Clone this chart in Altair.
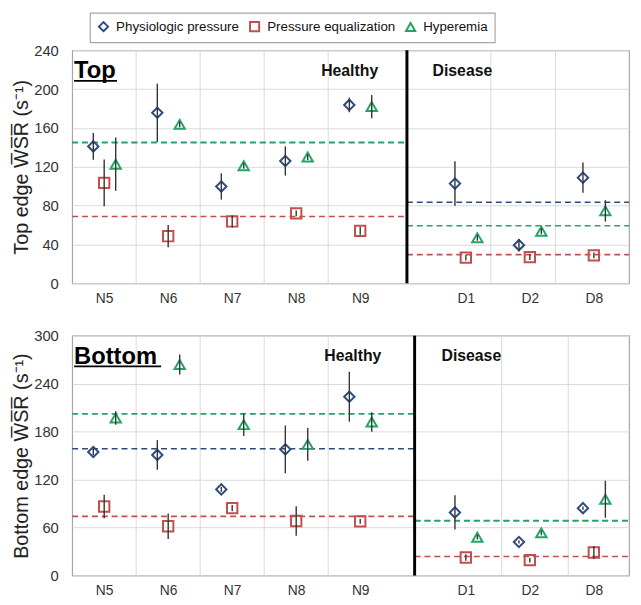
import altair as alt
import pandas as pd

# ---------------- data ----------------
categories = ["N5", "N6", "N7", "N8", "N9", "D1", "D2", "D8"]
series_names = ["Physiologic pressure", "Pressure equalization", "Hyperemia"]

# Top edge WSR (s^-1): mean and +/- error
top_phys = [141, 175.6, 99.7, 126, 183.7, 102.7, 39.3, 108.8]
top_phys_err = [13.8, 30, 13.5, 15, 7.5, 22.9, 6.3, 15.5]
top_press = [103.4, 48.5, 63.7, 72, 54, 26.4, 27, 28.8]
top_press_err = [24, 11.5, 6.2, 3, 4, 3, 3, 3]
top_hyp = [122.7, 163.7, 121, 130, 182, 46.8, 53.6, 74.6]
top_hyp_err = [27.5, 3, 3, 3, 12, 3, 3, 11]
top_mean_healthy = [145, 68.8, 145]
top_mean_disease = [83.4, 29.5, 59.3]

# Bottom edge WSR (s^-1)
bot_phys = [154.5, 150.8, 107.7, 157.8, 223.6, 78.9, 42, 84.3]
bot_phys_err = [4, 18.5, 3, 29.8, 31.2, 21.4, 2, 2]
bot_press = [86.3, 61.6, 84.3, 68.2, 67.8, 22.6, 19.3, 28.8]
bot_press_err = [14.7, 16, 4, 18.5, 3, 4, 3, 8.2]
bot_hyp = [196.9, 263.9, 188.7, 164, 192, 48, 53.4, 95.4]
bot_hyp_err = [8.5, 12.5, 14.2, 20.5, 12.3, 3, 3, 23.2]
bot_mean_healthy = [158.6, 74, 202.2]
bot_mean_disease = [68.6, 23.8, 68.9]

# ---------------- layout constants ----------------
cat_pos = [1, 2, 3, 4, 5, 6.65, 7.65, 8.65]
offsets = [-0.17, 0.0, 0.18]
X_MIN, X_MAX = 0.5, 9.2
colors = ["#2F4B7C", "#C0504D", "#22A565"]
shapes = ["diamond", "square", "triangle-up"]
FONT = "Liberation Sans"

label_expr = ""
for p, c in zip(cat_pos, categories):
    label_expr += f"datum.value == {p} ? '{c}' : "
label_expr += "''"

color_expr = ""
for n, c in zip(series_names, colors):
    color_expr += f"datum.series == '{n}' ? '{c}' : "
color_expr += "'#000000'"

color_scale = alt.Scale(domain=series_names, range=colors)
shape_scale = alt.Scale(domain=series_names, range=shapes)


def points_df(vals, errs):
    rows = []
    for s, (v, e) in enumerate(zip(vals, errs)):
        for i, c in enumerate(categories):
            rows.append({"category": c, "series": series_names[s],
                         "x": cat_pos[i] + offsets[s], "value": v[i],
                         "lo": v[i] - e[i], "hi": v[i] + e[i]})
    return pd.DataFrame(rows)


def panel(vals, errs, mean_h, mean_d, divider, vgrid, ymax, ystep, height,
          title, big_label, big_xy, underline, grp_labels):
    df = points_df(vals, errs)
    means = []
    for s in range(3):
        means.append({"series": series_names[s], "value": mean_h[s], "x0": X_MIN, "x1": divider})
        means.append({"series": series_names[s], "value": mean_d[s], "x0": divider, "x1": X_MAX})
    means = pd.DataFrame(means)

    xs = alt.Scale(domain=[X_MIN, X_MAX], nice=False, zero=False)
    ys = alt.Scale(domain=[0, ymax], nice=False)
    xaxis = alt.Axis(values=cat_pos, labelExpr=label_expr, title=None, grid=False,
                     ticks=False, domain=False, labelFontSize=14, labelFont=FONT,
                     labelColor="#333333", labelPadding=8)
    yaxis = alt.Axis(values=list(range(0, ymax + 1, ystep)), title=title, grid=True,
                     gridColor="#D9D9D9", ticks=False, domain=False, labelFontSize=15,
                     labelFont=FONT, labelColor="#333333", labelPadding=14,
                     titleFontSize=20, titleFont=FONT, titleFontWeight="normal",
                     titleColor="#222222", titlePadding=2)

    base_x = alt.X("x:Q", scale=xs, axis=xaxis)

    grid = alt.Chart(pd.DataFrame({"x": vgrid})).mark_rule(color="#D9D9D9", strokeWidth=1).encode(
        x=alt.X("x:Q", scale=xs, axis=xaxis))
    div = alt.Chart(pd.DataFrame({"x": [divider]})).mark_rule(color="black", strokeWidth=3).encode(
        x=alt.X("x:Q", scale=xs, axis=xaxis))
    mlines = alt.Chart(means).transform_calculate(col=color_expr).mark_rule(
        strokeDash=[6, 4], strokeWidth=1.6).encode(
        x=alt.X("x0:Q", scale=xs, axis=xaxis), x2="x1:Q",
        y=alt.Y("value:Q", scale=ys, axis=yaxis),
        color=alt.Color("col:N", scale=None))
    pts = alt.Chart(df).mark_point(filled=False, strokeWidth=2, size=110, opacity=1).encode(
        x=base_x, y=alt.Y("value:Q", scale=ys, axis=yaxis),
        color=alt.Color("series:N", scale=color_scale, title=None),
        shape=alt.Shape("series:N", scale=shape_scale, title=None))
    err = alt.Chart(df).mark_rule(color="#333333", strokeWidth=1.4).encode(
        x=base_x, y=alt.Y("lo:Q", scale=ys, axis=yaxis), y2="hi:Q")

    big = alt.Chart(pd.DataFrame({"x": [big_xy[0]], "y": [big_xy[1]], "t": [big_label]})).mark_text(
        align="left", baseline="alphabetic", fontSize=24, fontWeight="bold", font=FONT, color="black").encode(
        x=alt.X("x:Q", scale=xs, axis=xaxis), y=alt.Y("y:Q", scale=ys, axis=yaxis), text="t:N")
    uline = alt.Chart(pd.DataFrame({"x": [underline[0]], "x2": [underline[1]], "y": [underline[2]]})).mark_rule(
        color="black", strokeWidth=1.6).encode(
        x=alt.X("x:Q", scale=xs, axis=xaxis), x2="x2:Q", y=alt.Y("y:Q", scale=ys, axis=yaxis))
    grp = alt.Chart(pd.DataFrame(grp_labels)).mark_text(
        align="left", baseline="middle", fontSize=16, fontWeight="bold", font=FONT, color="#111111").encode(
        x=alt.X("x:Q", scale=xs, axis=xaxis), y=alt.Y("y:Q", scale=ys, axis=yaxis), text="t:N")

    return alt.layer(grid, mlines, div, pts, err, big, uline, grp).properties(width=564, height=height)


top = panel([top_phys, top_press, top_hyp], [top_phys_err, top_press_err, top_hyp_err],
            top_mean_healthy, top_mean_disease, 5.73, [1.5, 2.5, 3.5, 4.5, 7.04, 8.05],
            240, 40, 236, "Top edge W\u0305S\u0305R\u0305 (s\u207b\u00b9)",
            "Top", (0.53, 211), (0.53, 1.2, 208.5),
            {"x": [4.39, 6.13], "y": [219, 219], "t": ["Healthy", "Disease"]})
bottom = panel([bot_phys, bot_press, bot_hyp], [bot_phys_err, bot_press_err, bot_hyp_err],
               bot_mean_healthy, bot_mean_disease, 5.85, [1.5, 2.5, 3.5, 4.5, 7.21, 8.25],
               300, 60, 243, "Bottom edge W\u0305S\u0305R\u0305 (s\u207b\u00b9)",
               "Bottom", (0.53, 265), (0.53, 1.89, 261.5),
               {"x": [4.44, 6.27], "y": [274, 274], "t": ["Healthy", "Disease"]})

chart = alt.vconcat(top, bottom, spacing=22).properties(
    padding={"left": 3, "right": 2, "top": 0, "bottom": 2}
).configure_view(stroke="#A6A6A6", strokeWidth=1.2).configure_legend(
    orient="none", legendX=18, legendY=-38, direction="horizontal",
    strokeColor="#A6A6A6", strokeWidth=1.2, padding=7, labelFontSize=13.5, labelFont=FONT,
    labelColor="#111111", symbolStrokeWidth=2, symbolSize=85, columnPadding=6,
    labelOffset=6
)

chart.save("out.html", embed_options={"renderer": "svg", "actions": False})
